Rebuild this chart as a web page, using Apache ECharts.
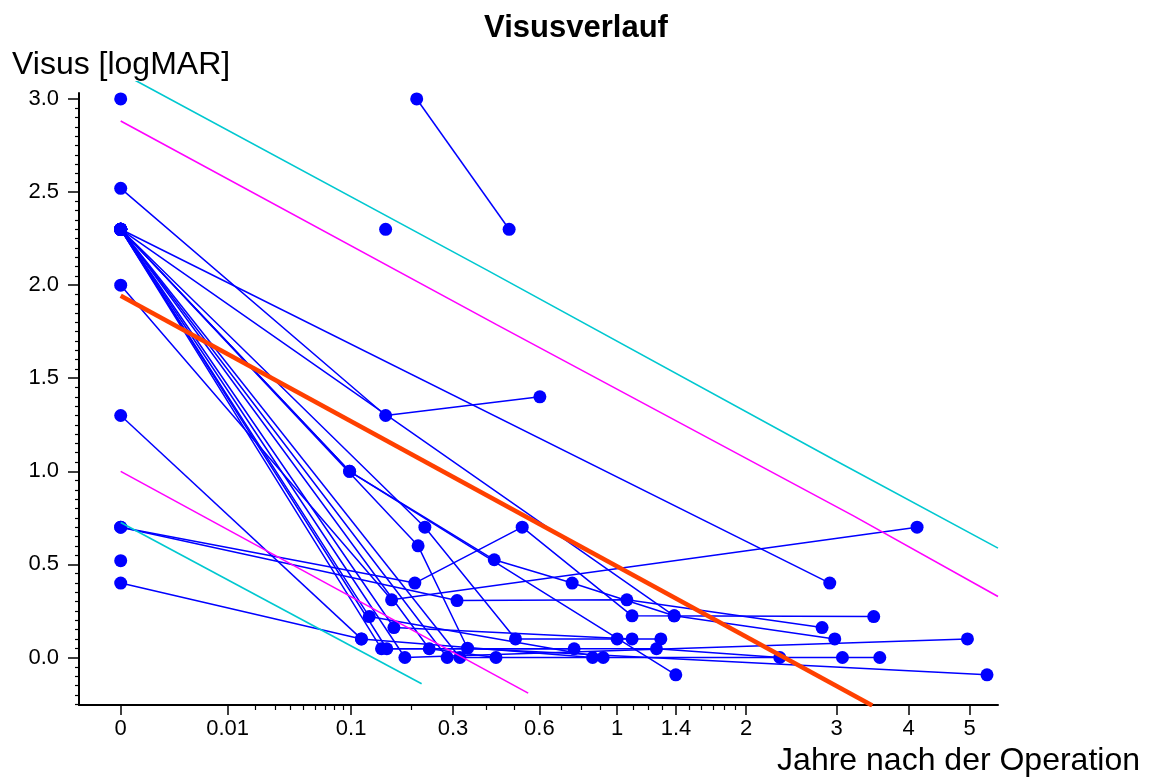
<!DOCTYPE html>
<html>
<head>
<meta charset="UTF-8" />
<title>Visusverlauf</title>
<script src="https://cdn.jsdelivr.net/npm/echarts@6.0.0/dist/echarts.min.js"></script>
<style>
	html, body { margin: 0; padding: 0; background: #fff; }
	#chart { width: 1152px; height: 781px; }
</style>
</head>
<body>
<div id="chart"></div>
<script>
	// x axis is a cube-root time scale (years after surgery)
	var xTickYears = [0, 0.01, 0.1, 0.3, 0.6, 1, 1.4, 2, 3, 4, 5];
	var xTickLabels = ['0', '0.01', '0.1', '0.3', '0.6', '1', '1.4', '2', '3', '4', '5'];
	var xMinorYears = [0.02, 0.03, 0.04, 0.05, 0.06, 0.07, 0.08, 0.09,
		0.2, 0.4, 0.5, 0.7, 0.8, 0.9,
		1.1, 1.2, 1.3, 1.5, 1.6, 1.7, 1.8, 1.9];
	var yTickValues = [0, 0.5, 1, 1.5, 2, 2.5, 3];

	// one list per eye: [years, logMAR]
	var patients = [
		[[0, 3.0]],
		[[0, 0.52]],
		[[0.152, 2.3]],
		[[0.212, 3.0], [0.479, 2.3]],
		[[0, 2.52], [0.152, 1.3], [0.602, 1.4]],
		[[0, 2.3], [2.914, 0.4]],
		[[0, 2.3], [1.386, 0.224], [2.976, 0.1]],
		[[0, 2.3], [0.098, 1.0], [0.426, 0.525], [0.752, 0.4], [1.386, 0.224]],
		[[0, 0.7], [0.208, 0.4], [0.529, 0.7], [1.093, 0.224], [3.49, 0.22]],
		[[0, 0.7], [0.311, 0.306], [1.06, 0.31], [2.82, 0.161]],
		[[0, 2.0], [0.1625, 0.31], [4.128, 0.7]],
		[[0, 1.3], [0.114, 0.1]],
		[[0, 0.4], [0.114, 0.1], [0.859, 0.0]],
		[[0, 2.3], [0.1255, 0.22], [0.918, 0.0]],
		[[0, 2.3], [0.145, 0.047], [0.762, 0.047]],
		[[0, 2.3], [0.154, 0.047], [1.257, 0.047], [2.34, 0.0]],
		[[0, 2.3], [0.1667, 0.161], [1.093, 0.1]],
		[[0, 2.3], [0.1876, 0.0], [4.962, 0.1]],
		[[0, 2.3], [0.24, 0.047], [0.432, 0.0]],
		[[0, 2.3], [0.2845, 0.0], [3.073, 0.0], [3.575, 0.0]],
		[[0, 2.3], [0.319, 0.0]],
		[[0, 2.3], [0.215, 0.6], [0.341, 0.05], [5.314, -0.093]],
		[[0, 2.3], [0.23, 0.7], [0.503, 0.1], [1.0, 0.1], [1.288, 0.1]],
		[[0, 2.3], [0.098, 1.0], [1.398, -0.093]]
	];

	var regression = [[0, 1.943], [3.47, -0.258]];
	var upperCyan = [[0, 3.142], [0.4003, 2.082], [2.955, 1.065], [5.519, 0.5875]];
	var upperMagenta = [[0, 2.882], [0.4341, 1.788], [3.2105, 0.762], [5.519, 0.3276]];
	var lowerMagenta = [[0, 1.0], [0.553, -0.191]];
	var lowerCyan = [[0, 0.725], [0.2227, -0.141]];

	var font = "'Liberation Sans', Arial, sans-serif";
	var cbrt = function(pts) {
		return pts.map(function(p) { return [Math.cbrt(p[0]), p[1]]; });
	};
	var yMinor = [];
	for (var k = -5; k <= 60; k++) {
		if (k % 10 !== 0) yMinor.push(k * 0.05);
	}

	var series = [];
	patients.forEach(function(p) {
		series.push({
			type: 'line',
			data: cbrt(p),
			symbol: 'circle',
			symbolSize: 13,
			showAllSymbol: true,
			lineStyle: { color: '#0000ff', width: 1.5 },
			itemStyle: { color: '#0000ff' },
			silent: true,
			z: 3
		});
	});
	[[upperCyan, '#00c8d0'], [lowerCyan, '#00c8d0'], [upperMagenta, '#ff00ff'], [lowerMagenta, '#ff00ff']].forEach(function(b) {
		series.push({
			type: 'line',
			data: cbrt(b[0]),
			symbol: 'none',
			clip: false,
			lineStyle: { color: b[1], width: 1.6 },
			silent: true,
			z: 4
		});
	});
	series.push({
		type: 'line',
		data: cbrt(regression),
		symbol: 'none',
		lineStyle: { color: '#ff4000', width: 4.5 },
		silent: true,
		z: 5
	});

	var myChart = echarts.init(document.getElementById('chart'));
	myChart.setOption({
		backgroundColor: '#fff',
		animation: false,
		title: {
			text: 'Visusverlauf',
			left: 'center',
			top: 8,
			textStyle: { fontFamily: font, fontSize: 31, fontWeight: 'bold', color: '#000' }
		},
		grid: { left: 79, right: 154, top: 93, bottom: 76 },
		xAxis: [{
			type: 'value',
			min: -0.084,
			max: 1.7672,
			axisLine: { onZero: false, lineStyle: { color: '#000', width: 2 } },
			axisTick: { length: 10, lineStyle: { color: '#000', width: 1.5 }, customValues: xTickYears.map(Math.cbrt) },
			axisLabel: {
				customValues: xTickYears.map(Math.cbrt),
				fontFamily: font, fontSize: 22, color: '#000', margin: 13,
				formatter: function(v) {
					for (var i = 0; i < xTickYears.length; i++) {
						if (Math.abs(Math.cbrt(xTickYears[i]) - v) < 1e-6) return xTickLabels[i];
					}
					return '';
				}
			},
			splitLine: { show: false }
		}, {
			type: 'value',
			position: 'bottom',
			min: -0.084,
			max: 1.7672,
			axisLine: { show: false, onZero: false },
			axisTick: { length: 5, lineStyle: { color: '#000', width: 1.2 }, customValues: xMinorYears.map(Math.cbrt) },
			axisLabel: { show: false },
			splitLine: { show: false }
		}],
		yAxis: [{
			type: 'value',
			min: -0.255,
			max: 3.032,
			axisLine: { show: true, onZero: false, lineStyle: { color: '#000', width: 2 } },
			axisTick: { show: true, length: 11, lineStyle: { color: '#000', width: 1.5 }, customValues: yTickValues },
			axisLabel: {
				customValues: yTickValues,
				fontFamily: font, fontSize: 22, color: '#000', margin: 20,
				formatter: function(v) { return v.toFixed(1); }
			},
			splitLine: { show: false }
		}, {
			type: 'value',
			position: 'left',
			min: -0.255,
			max: 3.032,
			axisLine: { show: false, onZero: false },
			axisTick: { show: true, length: 4, lineStyle: { color: '#000', width: 1.2 }, customValues: yMinor },
			axisLabel: { show: false },
			splitLine: { show: false }
		}],
		graphic: [{
			type: 'text',
			left: 12,
			top: 49,
			z: 100,
			style: {
				text: 'Visus [logMAR]',
				fontFamily: font, fontSize: 32, fill: '#000',
				backgroundColor: '#fff', padding: [0, 2, 0, 0]
			}
		}, {
			type: 'text',
			right: 12,
			top: 745,
			z: 100,
			style: {
				text: 'Jahre nach der Operation',
				fontFamily: font, fontSize: 32, fill: '#000'
			}
		}],
		series: series
	});
</script>
</body>
</html>
